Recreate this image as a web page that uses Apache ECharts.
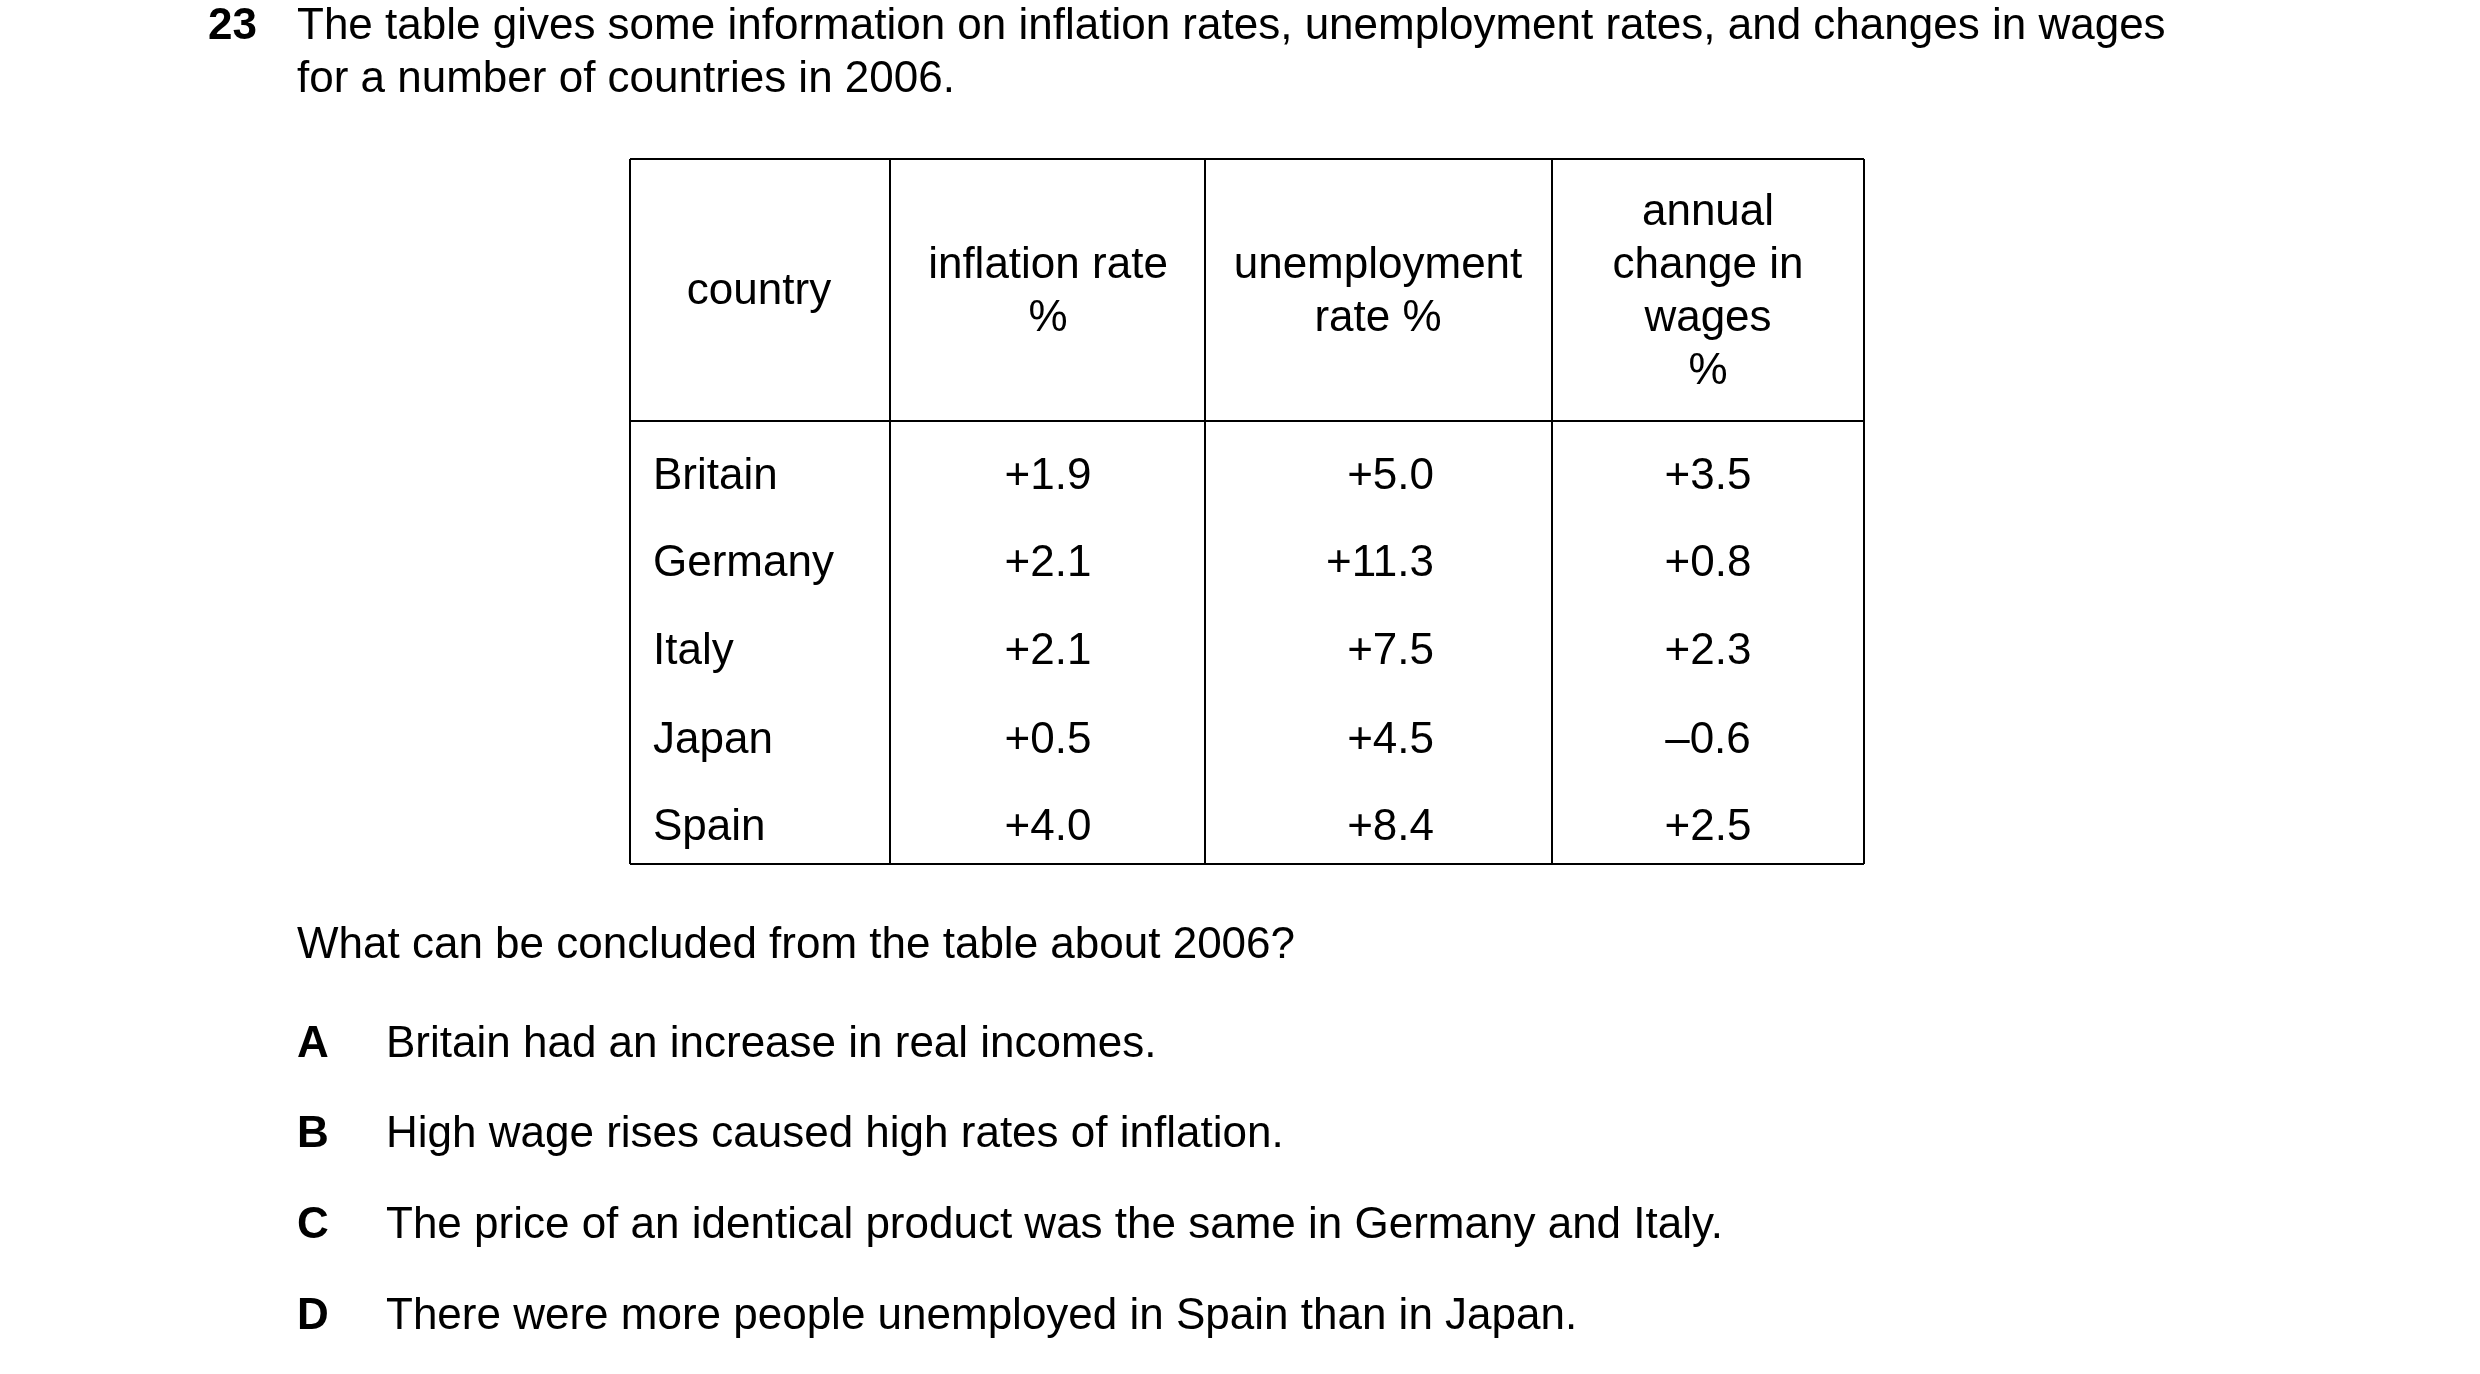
<!DOCTYPE html>
<html><head><meta charset="utf-8">
<script src="https://cdn.jsdelivr.net/npm/echarts@6/dist/echarts.min.js"></script>
<style>html,body{margin:0;padding:0;background:#fff}#c{width:2480px;height:1374px}</style>
</head><body><div id="c"></div>
<script>
const questionNumber = "23";
const questionLines = ["The table gives some information on inflation rates, unemployment rates, and changes in wages", "for a number of countries in 2006."];
const headers = [["country"], ["inflation rate", "%"], ["unemployment", "rate %"], ["annual", "change in", "wages", "%"]];
const countries = ["Britain", "Germany", "Italy", "Japan", "Spain"];
const inflation = ["+1.9", "+2.1", "+2.1", "+0.5", "+4.0"];
const unemployment = ["+5.0", "+11.3", "+7.5", "+4.5", "+8.4"];
const wages = ["+3.5", "+0.8", "+2.3", "–0.6", "+2.5"];
const prompt = "What can be concluded from the table about 2006?";
const optionLetters = ["A", "B", "C", "D"];
const optionTexts = ["Britain had an increase in real incomes.", "High wage rises caused high rates of inflation.", "The price of an identical product was the same in Germany and Italy.", "There were more people unemployed in Spain than in Japan."];

const F = "Liberation Sans, Arial, sans-serif";
const fs = 44;
const g = [];
function txt(x, y, s, align, bold) {
  g.push({type:'text', x, y, style:{text:s, font:(bold?'bold ':'')+fs+'px '+F, fill:'#000', align:align||'left', verticalAlign:'middle'}});
}
function line(x1,y1,x2,y2){ g.push({type:'line', shape:{x1,y1,x2,y2}, style:{stroke:'#000', lineWidth:2}}); }

txt(208, 27, questionNumber, 'left', true);
questionLines.forEach((l,i)=>txt(297, 27+i*53, l));

const L=630, R=1864, T=159, HB=421, B=864;
const cols=[L,890,1205,1552,R];
line(L,T,R,T); line(L,HB,R,HB); line(L,B,R,B);
cols.forEach(x=>line(x,T,x,B));
const headCx=[759,1048,1378,1708];
headers.forEach((h,i)=>{
  const lh=53, y0=(T+HB)/2 - (h.length-1)*lh/2 + 2;
  h.forEach((s,j)=>txt(headCx[i], y0+j*lh, s, 'center'));
});
const rowY=[477,564,652,741,828];
countries.forEach((c,i)=>{
  txt(653,rowY[i],c,'left');
  txt(1048,rowY[i],inflation[i],'center');
  txt(1434,rowY[i],unemployment[i],'right');
  txt(1708,rowY[i],wages[i],'center');
});
txt(297, 946, prompt);
const optY=[1045,1135,1226,1317];
optionLetters.forEach((o,i)=>{ txt(297,optY[i],o,'left',true); txt(386,optY[i],optionTexts[i]); });

const chart = echarts.init(document.getElementById('c'));
chart.setOption({animation:false, backgroundColor:'#fff', graphic:{elements:g}});
</script></body></html>
